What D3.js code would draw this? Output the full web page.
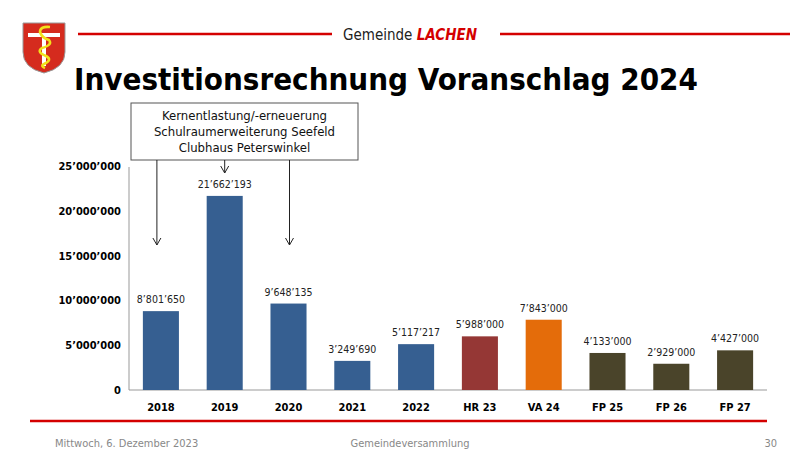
<!DOCTYPE html>
<html><head><meta charset="utf-8">
<script src="https://cdn.jsdelivr.net/npm/d3@7"></script>
<style>
html,body{margin:0;padding:0;background:#fff;}
svg{display:block;}
text{font-family:"DejaVu Sans Condensed","DejaVu Sans",sans-serif;}
</style></head>
<body>
<svg id="c" width="795" height="462"></svg>
<script>
const categories = ["2018","2019","2020","2021","2022","HR 23","VA 24","FP 25","FP 26","FP 27"];
const values = [8801650,21662193,9648135,3249690,5117217,5988000,7843000,4133000,2929000,4427000];
const groups = ["IST","IST","IST","IST","IST","HR","VA","FP","FP","FP"];
const yTicks = [0,5000000,10000000,15000000,20000000,25000000];
const noteLines = ["Kernentlastung/-erneuerung","Schulraumerweiterung Seefeld","Clubhaus Peterswinkel"];
const noteTargets = ["2018","2019","2020"];

const svg = d3.select("#c");
const fmt = v => d3.format(",")(v).replace(/,/g,"\u2019");
const color = d3.scaleOrdinal().domain(["IST","HR","VA","FP"]).range(["#365f91","#953735","#e46c0a","#4a442a"]);

const x = d3.scaleBand().domain(categories).range([129,767]).paddingInner(0.435).paddingOuter(0.2175);
const y = d3.scaleLinear().domain([0,25000000]).range([390,166]);

// header
svg.append("line").attr("x1",78).attr("x2",332).attr("y1",34).attr("y2",34).attr("stroke","#d40000").attr("stroke-width",2.5);
svg.append("line").attr("x1",500).attr("x2",790).attr("y1",34).attr("y2",34).attr("stroke","#d40000").attr("stroke-width",2.5);
const ht = svg.append("text").attr("x",343).attr("y",40).attr("font-size",15).attr("fill","#222");
ht.append("tspan").text("Gemeinde ");
ht.append("tspan").text("LACHEN").attr("fill","#d40000").attr("font-weight","bold").attr("font-style","italic");

// logo
const lg = svg.append("g");
lg.append("path").attr("d","M23,23 L65,23 L65,52 Q65,68 44,73 Q23,68 23,52 Z").attr("fill","#d52b1e").attr("stroke","#999").attr("stroke-width",1);
lg.append("rect").attr("x",28).attr("y",33).attr("width",32).attr("height",4).attr("fill","#fff");
lg.append("rect").attr("x",42).attr("y",33).attr("width",4).attr("height",33).attr("fill","#fff");
lg.append("path").attr("d","M50,27 Q40,26 40,32 Q42,38 49,40 Q53,45 42,48 Q36,52 46,56 Q53,60 44,64 Q40,66 45,68").attr("fill","none").attr("stroke","#f2e21b").attr("stroke-width",2.6);

// title
svg.append("text").attr("x",386).attr("y",90).attr("text-anchor","middle").attr("font-size",31).attr("font-weight","bold").attr("fill","#000").text("Investitionsrechnung Voranschlag 2024");

// axes
svg.append("line").attr("x1",129).attr("x2",129).attr("y1",167).attr("y2",390).attr("stroke","#999");
svg.append("line").attr("x1",129).attr("x2",767).attr("y1",390).attr("y2",390).attr("stroke","#999");

svg.append("g").selectAll("text").data(yTicks).join("text")
  .attr("x",121).attr("y",d=>y(d)+4).attr("text-anchor","end").attr("font-size",11).attr("font-weight","bold").attr("fill","#000")
  .text(d=>fmt(d));

svg.append("g").selectAll("text").data(categories).join("text")
  .attr("x",d=>x(d)+x.bandwidth()/2).attr("y",411).attr("text-anchor","middle").attr("font-size",11).attr("font-weight","bold").attr("fill","#000")
  .text(d=>d);

// bars
svg.append("g").selectAll("rect").data(categories).join("rect")
  .attr("x",d=>x(d)).attr("width",x.bandwidth())
  .attr("y",(d,i)=>y(values[i])).attr("height",(d,i)=>y(0)-y(values[i]))
  .attr("fill",(d,i)=>color(groups[i]));

svg.append("g").selectAll("text").data(categories).join("text")
  .attr("x",d=>x(d)+x.bandwidth()/2).attr("y",(d,i)=>y(values[i])-8).attr("text-anchor","middle").attr("font-size",10.5).attr("fill","#222")
  .text((d,i)=>fmt(values[i]));

// annotation box
svg.append("rect").attr("x",131).attr("y",103).attr("width",227).attr("height",57).attr("fill","#fff").attr("stroke","#555").attr("stroke-width",1);
svg.append("g").selectAll("text").data(noteLines).join("text")
  .attr("x",244.5).attr("y",(d,i)=>120+i*16).attr("text-anchor","middle").attr("font-size",13).attr("fill","#111").text(d=>d);

const arrowEnds = [245,173,245];
const ag = svg.append("g").attr("stroke","#222").attr("stroke-width",1).attr("fill","none");
noteTargets.forEach((c,i)=>{
  const cx = x(c)+x.bandwidth()/2 - (i===0?4:(i===2?-1:0));
  const ye = arrowEnds[i];
  ag.append("line").attr("x1",cx).attr("x2",cx).attr("y1",160).attr("y2",ye);
  ag.append("path").attr("d",`M${cx-4},${ye-7} L${cx},${ye} L${cx+4},${ye-7}`);
});

// bottom line & footer
svg.append("line").attr("x1",30).attr("x2",767).attr("y1",421).attr("y2",421).attr("stroke","#d40000").attr("stroke-width",2.5);
svg.append("text").attr("x",55).attr("y",447).attr("font-size",11).attr("fill","#888").text("Mittwoch, 6. Dezember 2023");
svg.append("text").attr("x",410).attr("y",447).attr("text-anchor","middle").attr("font-size",11).attr("fill","#888").text("Gemeindeversammlung");
svg.append("text").attr("x",777).attr("y",447).attr("text-anchor","end").attr("font-size",11).attr("fill","#888").text("30");
</script>
</body></html>
